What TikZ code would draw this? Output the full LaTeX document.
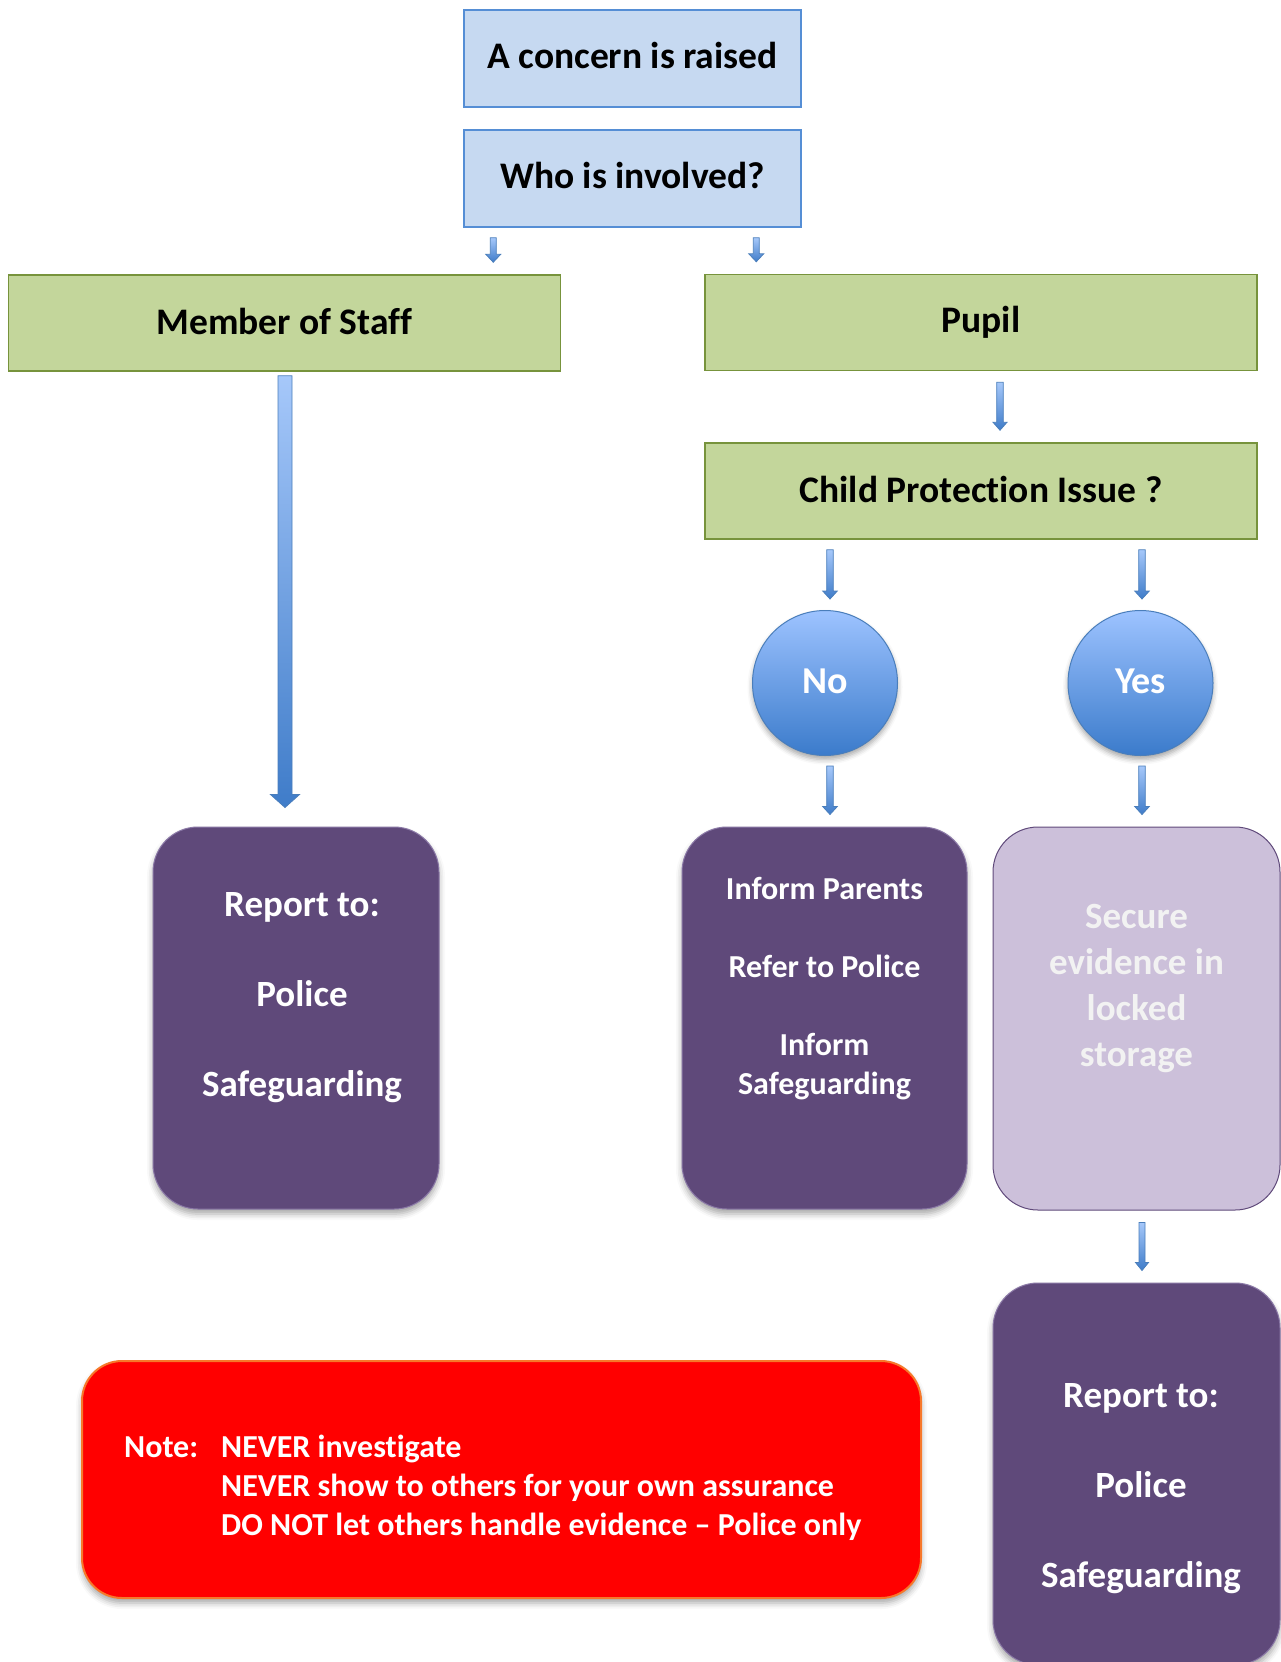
\documentclass[tikz,border=0pt]{standalone}
\usepackage{fontspec}
\setmainfont{Carlito}[Ligatures={NoCommon}]
\usetikzlibrary{shadows.blur,calc}
\definecolor{bluefill}{HTML}{C6D9F1}
\definecolor{blueline}{HTML}{558ED5}
\definecolor{greenfill}{HTML}{C3D69B}
\definecolor{greenline}{HTML}{77933C}
\definecolor{purp}{HTML}{5F497A}
\definecolor{purpline}{HTML}{8A78A6}
\definecolor{lpurp}{HTML}{CCC0DA}
\definecolor{lpurpline}{HTML}{5F497A}
\definecolor{circtop}{HTML}{9DC3FF}
\definecolor{circbot}{HTML}{3B7BCB}
\definecolor{arrowtop}{HTML}{A6C8FA}
\definecolor{arrowbot}{HTML}{3F7CC9}
\definecolor{arrowline}{HTML}{4A7EBB}
\definecolor{notered}{HTML}{FF0000}
\definecolor{noteline}{HTML}{F7782A}
\definecolor{softwhite}{HTML}{F2F2F2}
\newcommand{\blockarrow}[5]{%
  \path[arrowstyle] let \p1=(#1), \p2=(#2) in
    (\x1-#3pt,\y1) -- (\x1+#3pt,\y1) -- (\x1+#3pt,\y2+#5pt) -- (\x1+#4pt,\y2+#5pt)
    -- (\x1,\y2) -- (\x1-#4pt,\y2+#5pt) -- (\x1-#3pt,\y2+#5pt) -- cycle;
}
\tikzset{
  bluebox/.style={draw=blueline, line width=1.5pt, fill=bluefill, minimum width=337pt,
    minimum height=97pt, inner sep=0pt, font=\bfseries\fontsize{37.5}{45}\selectfont},
  greenbox/.style={draw=greenline, line width=1.5pt, fill=greenfill, minimum width=552pt,
    minimum height=96pt, inner sep=0pt, font=\bfseries\fontsize{37.5}{45}\selectfont},
  decision/.style={circle, minimum size=145pt, inner sep=0pt, draw=arrowline, line width=1pt,
    top color=circtop, bottom color=circbot, text=white,
    font=\bfseries\fontsize{38}{46}\selectfont,
    blur shadow={shadow xshift=0pt, shadow yshift=-4pt, shadow blur radius=5pt, shadow opacity=35}},
  actionbox/.style={rounded corners=45pt, fill=purp, draw=purpline, line width=1pt,
    minimum width=286pt, minimum height=382pt, inner sep=0pt,
    blur shadow={shadow xshift=0pt, shadow yshift=-5pt, shadow blur radius=6pt, shadow opacity=35}},
  storebox/.style={rounded corners=45pt, fill=lpurp, draw=lpurpline, line width=1pt,
    minimum width=287pt, minimum height=383pt, inner sep=0pt},
  notebox/.style={rounded corners=40pt, fill=notered, draw=noteline, line width=2pt,
    minimum width=839pt, minimum height=237pt, inner sep=0pt,
    blur shadow={shadow xshift=0pt, shadow yshift=-5pt, shadow blur radius=6pt, shadow opacity=35}},
  boxtext/.style={text=white, align=center, inner sep=0pt, anchor=base},
  arrowstyle/.style={shade, top color=arrowtop, bottom color=arrowbot, draw=arrowline, line width=0.8pt},
}
\begin{document}
\begin{tikzpicture}[x=1pt,y=-1pt]
\useasboundingbox (0,0) rectangle (1281,1662);
% top boxes
\node[bluebox] (concern) at (632.5,58.5) {\raisebox{6pt}{A concern is raised}};
\node[bluebox] (who) at (632.5,178.5) {\raisebox{7pt}{Who is involved?}};
\node[greenbox] (staff) at (284.5,323) {\raisebox{3pt}{Member of Staff}};
\node[greenbox] (pupil) at (981,322.5) {Pupil};
\node[greenbox] (cp) at (981,491) {\raisebox{3pt}{Child Protection Issue ?}};
% decisions
\node[decision] (no) at (825,683) {\raisebox{3pt}{No}};
\node[decision] (yes) at (1140.5,683) {\raisebox{3pt}{Yes}};
% action boxes
\node[actionbox] (rep1) at (296,1018) {};
\node[actionbox, minimum width=285pt] (act) at (824.5,1018) {};
\node[storebox] (store) at (1136.5,1018.5) {};
\node[actionbox, minimum width=287pt] (rep2) at (1136.5,1474) {};
\node[notebox] (note) at (501.5,1479.5) {};
% texts (anchored at the baseline of their last line)
\node[boxtext, font=\bfseries\fontsize{37}{45}\selectfont] (rep1t) at ($(rep1.north)+(6,270)$)
  {Report to:\\\mbox{}\\Police\\\mbox{}\\Safeguarding};
\node[boxtext, font=\bfseries\fontsize{32}{39}\selectfont] (actt) at ($(act.north)+(0,268)$)
  {Inform Parents\\\mbox{}\\Refer to Police\\\mbox{}\\Inform\\Safeguarding};
\node[boxtext, text=softwhite, font=\bfseries\fontsize{37}{46}\selectfont] (storet) at ($(store.north)+(0,240)$)
  {Secure\\evidence in\\locked\\storage};
\node[boxtext, font=\bfseries\fontsize{37}{45}\selectfont] (rep2t) at ($(rep2.north)+(4.5,305)$)
  {Report to:\\\mbox{}\\Police\\\mbox{}\\Safeguarding};
\node[text=white, align=left, inner sep=0pt, anchor=base west, font=\bfseries\fontsize{32}{39}\selectfont]
  (notet) at (124,1535)
  {\makebox[97pt][l]{Note:}NEVER investigate\\
   \hspace*{97pt}NEVER show to others for your own assurance\\
   \hspace*{97pt}DO NOT let others handle evidence -- Police only};
% connectors
\coordinate (a1s) at ([xshift=30pt,yshift=-10pt]who.south west);
\coordinate (a1e) at ($(a1s |- staff.north)+(0,-12)$);
\blockarrow{a1s}{a1e}{3}{7.5}{8}
\coordinate (a2s) at ([xshift=293pt,yshift=-10pt]who.south west);
\coordinate (a2e) at ($(a2s |- pupil.north)+(0,-12)$);
\blockarrow{a2s}{a2e}{3}{7.5}{8}
\coordinate (a3s) at ($(staff.south)+(0.5,4)$);
\coordinate (a3e) at ($(a3s |- rep1.north)+(0,-19)$);
\blockarrow{a3s}{a3e}{7}{14.5}{13}
\coordinate (a4s) at ($(pupil.south)+(19,11)$);
\coordinate (a4e) at ($(a4s |- cp.north)+(0,-12)$);
\blockarrow{a4s}{a4e}{3.3}{7}{8}
\coordinate (a5s) at ($(cp.south -| no)+(5,10)$);
\coordinate (a5e) at ($(a5s |- no.north)+(0,-11)$);
\blockarrow{a5s}{a5e}{3.3}{7.3}{8}
\coordinate (a6s) at ($(cp.south -| yes)+(1.5,10)$);
\coordinate (a6e) at ($(a6s |- yes.north)+(0,-11)$);
\blockarrow{a6s}{a6e}{3.3}{7.3}{8}
\coordinate (a7s) at ($(no.south)+(5,10)$);
\coordinate (a7e) at ($(a7s |- act.north)+(0,-12)$);
\blockarrow{a7s}{a7e}{3.3}{7.3}{8}
\coordinate (a8s) at ($(yes.south)+(1.5,10)$);
\coordinate (a8e) at ($(a8s |- store.north)+(0,-12)$);
\blockarrow{a8s}{a8e}{3.3}{7.3}{8}
\coordinate (a9s) at ($(store.south)+(5.5,12)$);
\coordinate (a9e) at ($(a9s |- rep2.north)+(0,-12)$);
\blockarrow{a9s}{a9e}{3}{6.5}{8}
\end{tikzpicture}
\end{document}
